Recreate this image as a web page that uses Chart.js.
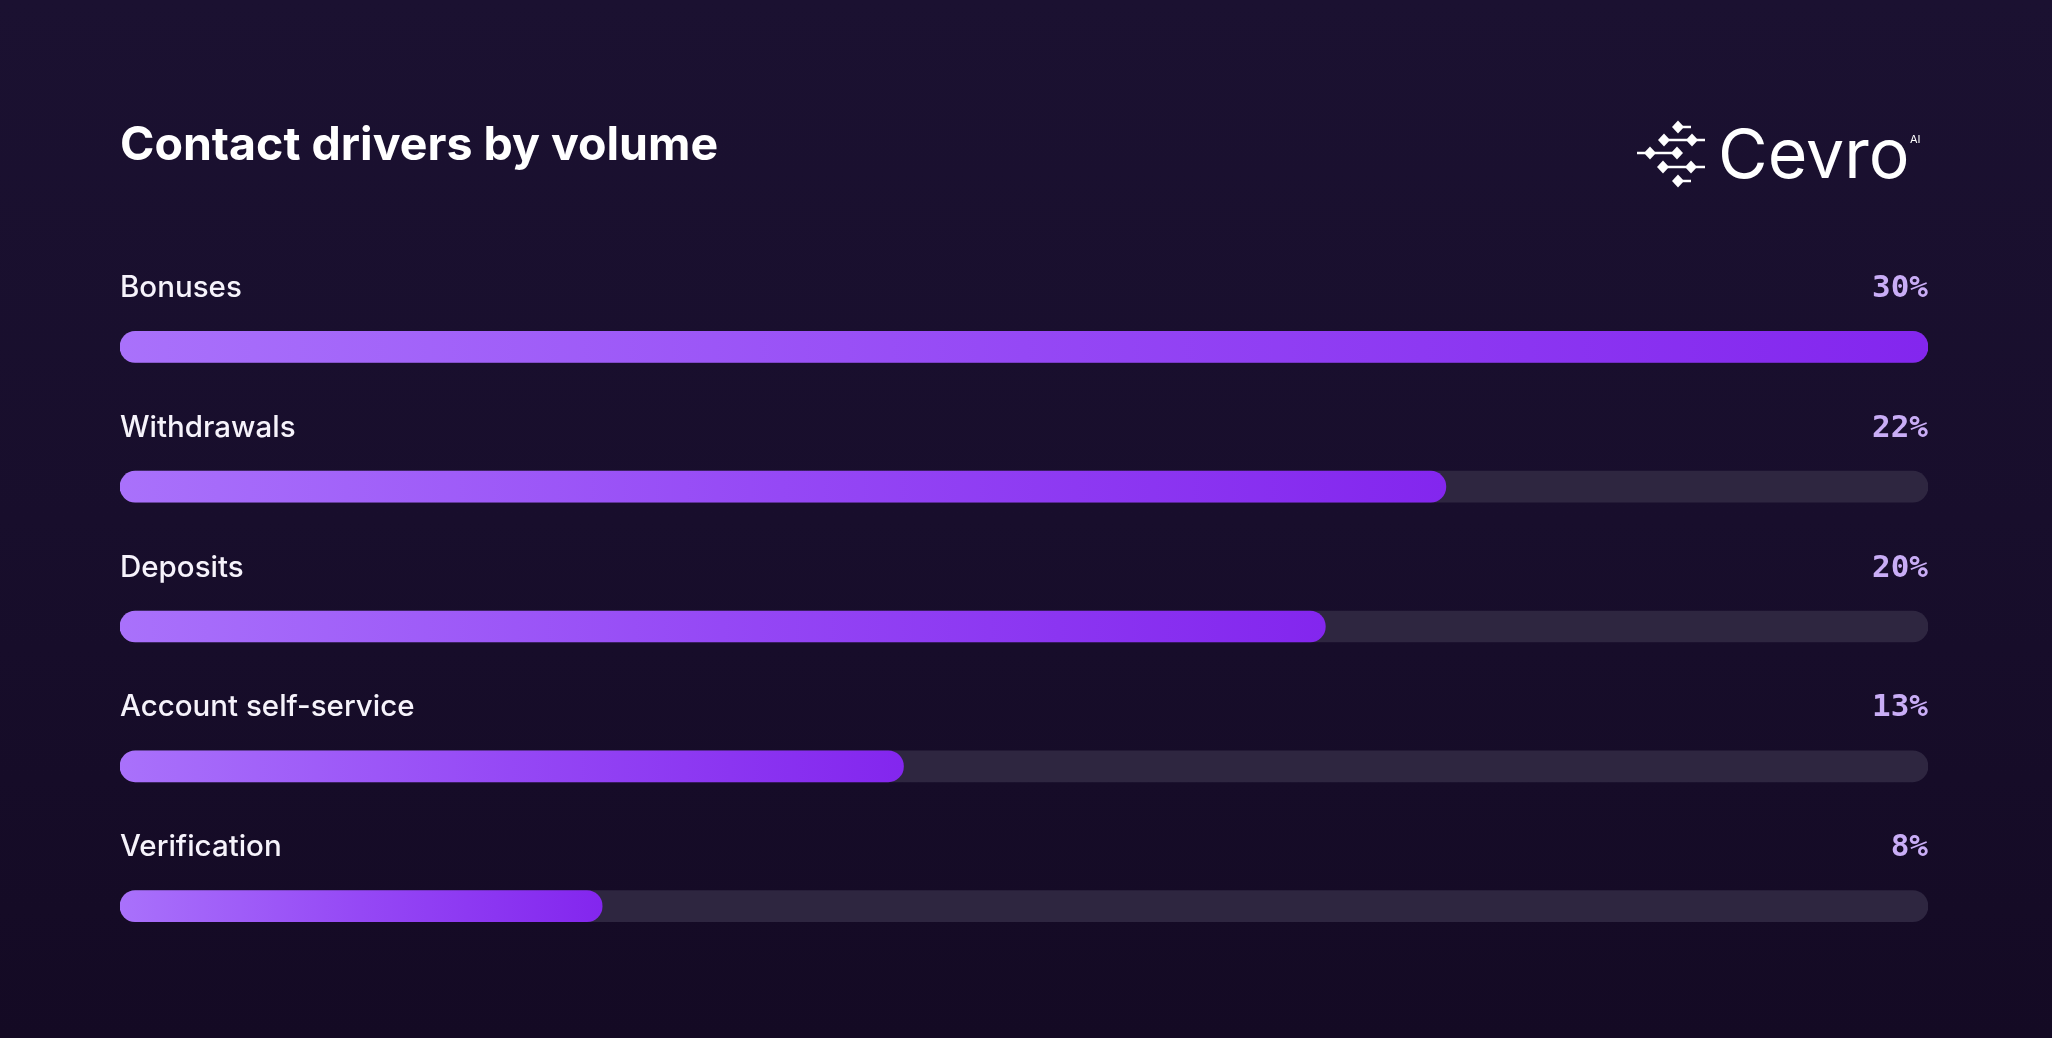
<!DOCTYPE html>
<html>
<head>
<meta charset="utf-8">
<script src="https://cdn.jsdelivr.net/npm/chart.js@4/dist/chart.umd.min.js"></script>
<style>
  html, body { margin: 0; padding: 0; }
  body {
    width: 2052px;
    height: 1038px;
    overflow: hidden;
    background: linear-gradient(180deg, #1b1131 0%, #180e2c 50%, #140a24 100%);
  }
  #wrap { position: absolute; left: 0; top: 0; width: 2052px; height: 1038px; }
</style>
</head>
<body>
<div id="wrap"><canvas id="driversChart" width="2052" height="1038"></canvas></div>
<script>
const title = "Contact drivers by volume";
const categories = ["Bonuses", "Withdrawals", "Deposits", "Account self-service", "Verification"];
const shares = [30, 22, 20, 13, 8];
const axisMax = 30;

// track behind each bar, always full length
const trackValues = categories.map(() => axisMax);

function barGradient(ctx) {
  const chart = ctx.chart;
  if (!chart.chartArea || ctx.type !== "data") return "#8a2ef0";
  const x = chart.scales.x;
  const start = x.getPixelForValue(0);
  const end = x.getPixelForValue(ctx.raw);
  const g = chart.ctx.createLinearGradient(start, 0, end, 0);
  g.addColorStop(0, "#a971fb");
  g.addColorStop(0.5, "#9548f5");
  g.addColorStop(1, "#8326ee");
  return g;
}

// Cevro logo (icon + wordmark)
function drawLogo(c) {
  const ox = 1630, oy = 115;
  c.save();
  c.translate(ox, oy);
  c.strokeStyle = "#ffffff";
  c.fillStyle = "#ffffff";
  c.lineWidth = 2.5;
  const lines = [[48, 61, 12], [34, 75, 25], [7, 47, 38], [33, 75, 52], [48, 61, 66]];
  lines.forEach(([a, b, y]) => {
    c.beginPath(); c.moveTo(a, y); c.lineTo(b, y); c.stroke();
  });
  const dots = [[48, 12], [34, 25], [62, 25], [20, 38], [47, 38], [33, 52], [61, 52], [48, 66]];
  dots.forEach(([x, y]) => {
    c.beginPath();
    c.moveTo(x, y - 6.5); c.lineTo(x + 6, y); c.lineTo(x, y + 6.5); c.lineTo(x - 6, y);
    c.closePath(); c.fill();
  });
  c.restore();

  c.save();
  c.fillStyle = "#ffffff";
  c.textAlign = "left";
  c.textBaseline = "alphabetic";
  c.font = "400 68px Inter";
  c.fillText("Cevro", 1718, 178);
  c.font = "400 11px Inter";
  c.fillText("AI", 1910, 143);
  c.restore();
}

const textPlugin = {
  id: "rowText",
  afterDraw(chart) {
    const c = chart.ctx;
    const y = chart.scales.y;
    const x = chart.scales.x;
    const left = x.getPixelForValue(0);
    const right = x.getPixelForValue(axisMax);

    c.save();
    c.textBaseline = "alphabetic";
    c.fillStyle = "#ffffff";
    c.font = "700 46.5px Inter";
    c.textAlign = "left";
    c.fillText(title, left, 160);

    categories.forEach((name, i) => {
      const cy = y.getPixelForValue(i);
      c.font = "500 29.5px Inter";
      c.fillStyle = "#f6f3fb";
      c.textAlign = "left";
      c.fillText(name, left, cy - 50);

      c.font = "700 31px 'DejaVu Sans Mono'";
      c.fillStyle = "#c9adf6";
      c.textAlign = "right";
      c.fillText(shares[i] + "%", right, cy - 50);
    });
    c.restore();

    drawLogo(c);
  }
};

new Chart(document.getElementById("driversChart"), {
  type: "bar",
  data: {
    labels: categories,
    datasets: [
      {
        label: "Share",
        data: shares,
        backgroundColor: barGradient,
        borderRadius: 16,
        borderSkipped: false,
        barThickness: 31,
        grouped: false,
        order: 1
      },
      {
        label: "Track",
        data: trackValues,
        backgroundColor: "#2e2640",
        borderRadius: 16,
        borderSkipped: false,
        barThickness: 31,
        grouped: false,
        order: 2
      }
    ]
  },
  options: {
    indexAxis: "y",
    responsive: false,
    animation: false,
    devicePixelRatio: 1,
    layout: {
      padding: { left: 120, right: 124, top: 277, bottom: 62 }
    },
    plugins: {
      legend: { display: false },
      tooltip: { enabled: false }
    },
    scales: {
      x: { display: false, min: 0, max: axisMax },
      y: { display: false }
    }
  },
  plugins: [textPlugin]
});
</script>
</body>
</html>
